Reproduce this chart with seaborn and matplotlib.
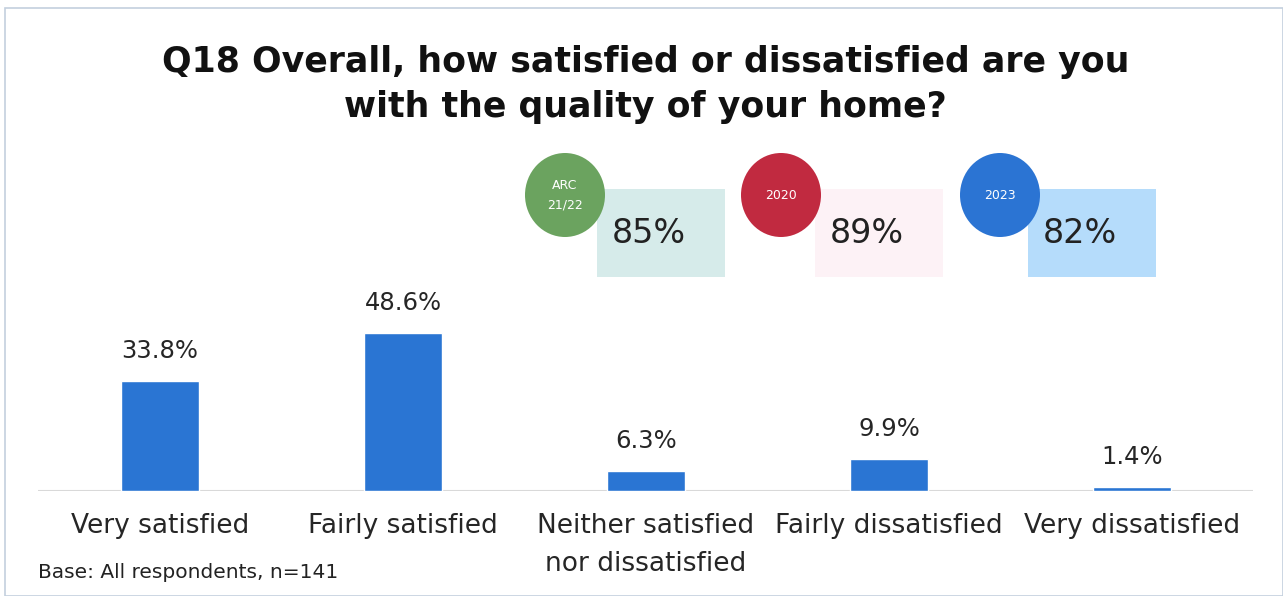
import numpy as np
import pandas as pd
from matplotlib import pyplot as plt
from matplotlib.patches import Ellipse, Rectangle
import seaborn as sns

categories = ['Very satisfied', 'Fairly satisfied', 'Neither satisfied\nnor dissatisfied',
              'Fairly dissatisfied', 'Very dissatisfied']
values = [33.8, 48.6, 6.3, 9.9, 1.4]

badge_labels = ['ARC\n21/22', '2020', '2023']
badge_values = [85, 89, 82]
badge_colors = ['#6BA35F', '#C12A40', '#2B74D3']
badge_boxes = ['#D6EBEA', '#FDF2F6', '#B5DCFB']

sns.set_style('white')
plt.rcParams['font.family'] = ['DejaVu Sans']

df = pd.DataFrame({'category': categories, 'pct': values})

fig = plt.figure(figsize=(12.83, 5.96), dpi=100)
ax = fig.add_axes([0.030, 0.176, 0.947, 0.545])
sns.barplot(data=df, x='category', y='pct', color='#2A75D3', width=0.32,
            saturation=1, ax=ax)
ax.set_ylim(0, 100)
ax.set_xlim(-0.5, 4.5)
for s in ax.spines.values():
    s.set_visible(False)
ax.axhline(0, color='#D9D9D9', lw=1.5, zorder=0)
ax.set_yticks([])
ax.set_xlabel('')
ax.set_ylabel('')
ax.tick_params(axis='x', length=0, pad=16, labelsize=19, labelcolor='#262626')
for lab in ax.get_xticklabels():
    lab.set_linespacing(1.6)

for i, v in enumerate(values):
    ax.text(i, v + 5.5, f'{v:.1f}%', ha='center', va='bottom', fontsize=17.5, color='#262626')

# outer frame
fig.patches.append(Rectangle((5 / 1283, 0), 1 - 5 / 1283, 1 - 8 / 596, transform=fig.transFigure,
                             fill=False, ec='#C3D0DE', lw=1.2))

fig.text(0.503, 0.858, 'Q18 Overall, how satisfied or dissatisfied are you\nwith the quality of your home?',
         ha='center', va='center', fontsize=25, fontweight='bold', color='#111111', linespacing=1.42)

# badges with comparison scores
cx = [565, 781, 1000]
bx = [597, 815, 1028]
for i in range(3):
    fig.patches.append(Rectangle((bx[i] / 1283, 1 - 277 / 596), 128 / 1283, 88 / 596,
                                 transform=fig.transFigure, fc=badge_boxes[i], ec='none', zorder=1))
    fig.patches.append(Ellipse((cx[i] / 1283, 1 - 195 / 596), 80 / 1283, 84 / 596,
                               transform=fig.transFigure, fc=badge_colors[i], ec='none', zorder=2))
    fig.text(cx[i] / 1283, 1 - 195 / 596, badge_labels[i], ha='center', va='center',
             color='white', fontsize=9, linespacing=1.6, zorder=3)
    fig.text((bx[i] + 52) / 1283, 1 - 234 / 596, f'{badge_values[i]}%', ha='center', va='center',
             fontsize=24, color='#222222', zorder=3)

fig.text(38 / 1283, 1 - 573 / 596, 'Base: All respondents, n=141', ha='left', va='center',
         fontsize=14.5, color='#222222')

fig.savefig('out.png', dpi=100)
